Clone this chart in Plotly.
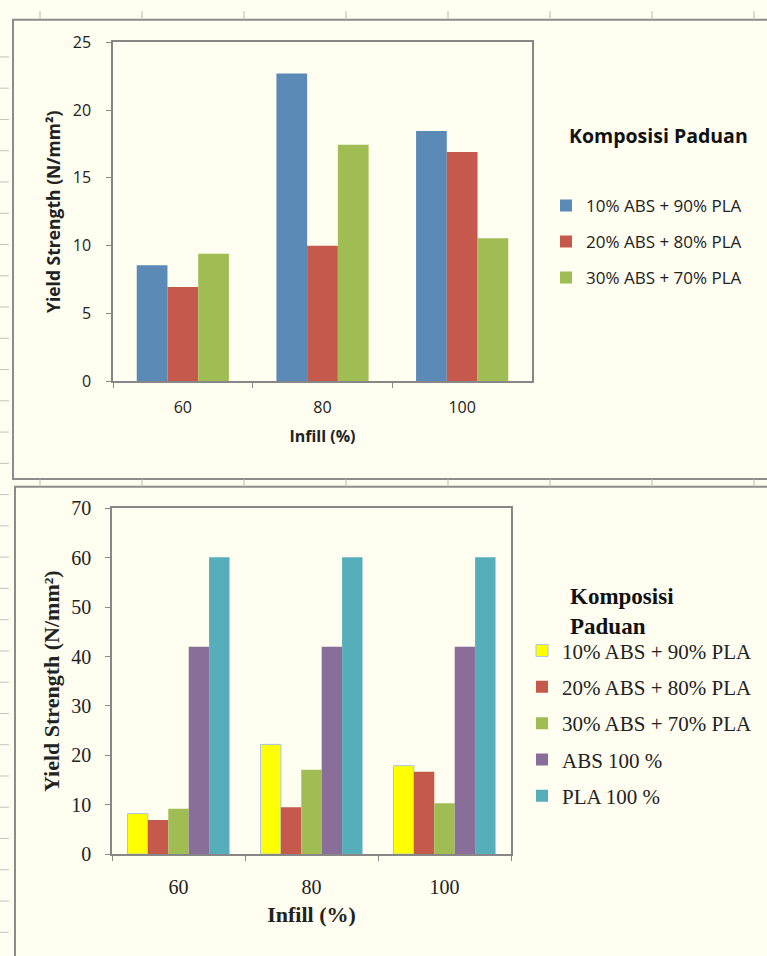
import plotly.graph_objects as go

# ---- data ----
infill = ["60", "80", "100"]

blend_names = ["10% ABS + 90% PLA", "20% ABS + 80% PLA", "30% ABS + 70% PLA"]
blend_yield = [
    [8.55, 22.7, 18.45],   # 10% ABS + 90% PLA
    [6.95, 10.0, 16.9],    # 20% ABS + 80% PLA
    [9.4, 17.45, 10.55],   # 30% ABS + 70% PLA
]

all_names = ["10% ABS + 90% PLA", "20% ABS + 80% PLA", "30% ABS + 70% PLA",
             "ABS 100 %", "PLA 100 %"]
all_yield = [
    [8.2, 22.2, 17.9],
    [6.9, 9.5, 16.7],
    [9.2, 17.1, 10.3],
    [42.0, 42.0, 42.0],
    [60.1, 60.1, 60.1],
]

top_colors = ["#5B8AB7", "#C5594B", "#A0BD54"]
bottom_colors = ["#FFFF00", "#C5594B", "#A0BD54", "#8A6E9A", "#56AEBB"]

W, H = 767, 956
BG = "#FFFEF0"
AX = "#878787"
SANS = "'Open Sans', Lato, sans-serif"
SERIF = "'Liberation Serif', 'DejaVu Serif', serif"


def fx(px):
    return px / W


def fy(py):
    return 1 - py / H


fig = go.Figure()

# top chart: three blends, bars share 66% of each category
top_group = 0.66
tw = top_group / len(blend_names)
for i, (name, vals) in enumerate(zip(blend_names, blend_yield)):
    fig.add_trace(go.Bar(
        x=infill, y=vals, name=name, xaxis="x", yaxis="y",
        marker=dict(color=top_colors[i], line=dict(width=0)),
        width=tw, offset=-top_group / 2 + i * tw,
        legend="legend", legendgroup=f"a{i}",
    ))

# bottom chart: blends plus pure ABS / PLA
bot_group = 0.767
bw = bot_group / len(all_names)
for i, (name, vals) in enumerate(zip(all_names, all_yield)):
    fig.add_trace(go.Bar(
        x=infill, y=vals, name=name, xaxis="x2", yaxis="y2",
        marker=dict(color=bottom_colors[i],
                    line=dict(width=1 if i == 0 else 0, color="#A9C6E4")),
        width=bw, offset=-bot_group / 2 + i * bw,
        legend="legend2", legendgroup=f"b{i}",
    ))

axis_common = dict(
    showline=True, mirror=True, linecolor=AX, linewidth=1.5,
    ticks="outside", ticklen=5, tickcolor=AX, tickwidth=1.2,
    showgrid=False, zeroline=False,
)

fig.update_layout(
    width=W, height=H,
    margin=dict(l=0, r=0, t=0, b=0),
    paper_bgcolor=BG, plot_bgcolor="rgba(0,0,0,0)",
    barmode="overlay",
    showlegend=True,
    xaxis=dict(
        domain=[fx(113), fx(532)], anchor="y", type="category",
        tickson="boundaries", ticklabelstandoff=11,
        tickfont=dict(family=SANS, size=16, color="#222"),
        title=dict(text="<b>Infill (%)</b>", standoff=14,
                   font=dict(family=SANS, size=16, color="#222")),
        **axis_common,
    ),
    yaxis=dict(
        domain=[fy(379), fy(32)], anchor="x", range=[0, 25], dtick=5,
        ticklabelstandoff=12,
        tickfont=dict(family=SANS, size=16, color="#222"),
        title=dict(text="<b>Yield Strength (N/mm²)</b>", standoff=8,
                   font=dict(family=SANS, size=17.5, color="#222")),
        **axis_common,
    ),
    xaxis2=dict(
        domain=[fx(112), fx(511)], anchor="y2", type="category",
        tickson="boundaries", ticklabelstandoff=14,
        tickfont=dict(family=SERIF, size=20, color="#222"),
        title=dict(text="<b>Infill (%)</b>", standoff=10,
                   font=dict(family=SERIF, size=22, color="#222")),
        **axis_common,
    ),
    yaxis2=dict(
        domain=[fy(863), fy(509)], anchor="x2", range=[0, 70], dtick=10,
        ticklabelstandoff=10,
        tickfont=dict(family=SERIF, size=20, color="#222"),
        title=dict(text="<b>Yield Strength (N/mm²)</b>", standoff=6,
                   font=dict(family=SERIF, size=22, color="#222")),
        **axis_common,
    ),
    legend=dict(
        x=fx(546), y=fy(181), xanchor="left", yanchor="top",
        bgcolor="rgba(0,0,0,0)", tracegroupgap=11,
        font=dict(family=SANS, size=17, color="#222"),
        itemclick=False,
    ),
    legend2=dict(
        x=fx(522), y=fy(634), xanchor="left", yanchor="top",
        bgcolor="rgba(0,0,0,0)", tracegroupgap=6,
        font=dict(family=SERIF, size=21, color="#222"),
        itemclick=False,
    ),
    annotations=[
        dict(text="<b>Komposisi Paduan</b>", x=fx(567), y=fy(127),
             xref="paper", yref="paper", xanchor="left", yanchor="middle",
             showarrow=False, font=dict(family=SANS, size=19.5, color="#111")),
        dict(text="<b>Komposisi<br>Paduan</b>", x=fx(568), y=fy(615),
             xref="paper", yref="paper", xanchor="left", yanchor="middle",
             align="left", showarrow=False,
             font=dict(family=SERIF, size=23, color="#111")),
    ],
)

# worksheet background: chart frames and cell grid lines
shapes = []
frame = dict(type="rect", xref="paper", yref="paper",
             line=dict(color="#8C8C8C", width=2), fillcolor="rgba(0,0,0,0)", layer="below")
shapes.append(dict(frame, x0=fx(13), x1=fx(790), y0=fy(479), y1=fy(9)))
shapes.append(dict(frame, x0=fx(15), x1=fx(790), y0=fy(990), y1=fy(487)))
for cx in range(40, W, 102):
    for (ya, yb) in [(0, 9), (479, 487)]:
        shapes.append(dict(type="line", xref="paper", yref="paper",
                           x0=fx(cx), x1=fx(cx), y0=fy(ya), y1=fy(yb),
                           line=dict(color="#B8B8B0", width=1), layer="below"))
for ry in range(47, H, 32):
    shapes.append(dict(type="line", xref="paper", yref="paper",
                       x0=fx(0), x1=fx(9), y0=fy(ry), y1=fy(ry),
                       line=dict(color="#C4C4BC", width=1), layer="below"))
fig.update_layout(shapes=shapes)

fig.write_html("out.html")
